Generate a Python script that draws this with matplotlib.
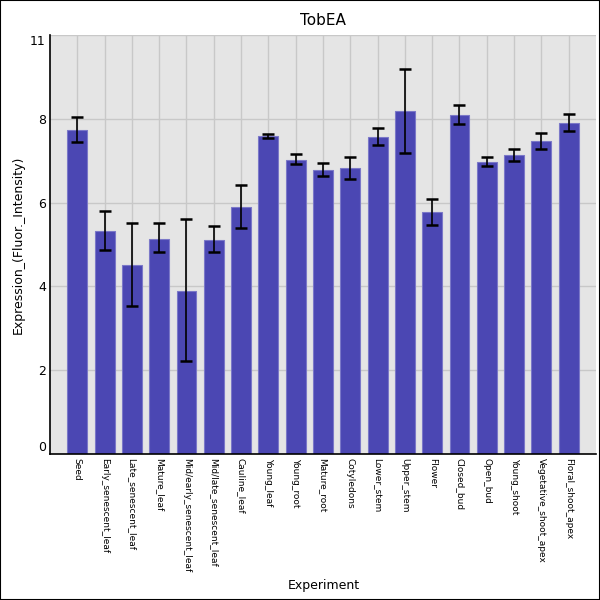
import matplotlib
matplotlib.use('Agg')
import matplotlib.pyplot as plt
import numpy as np

experiments = ['Seed', 'Early_senescent_leaf', 'Late_senescent_leaf', 'Mature_leaf',
               'Mid/early_senescent_leaf', 'Mid/late_senescent_leaf', 'Cauline_leaf',
               'Young_leaf', 'Young_root', 'Mature_root', 'Cotyledons', 'Lower_stem',
               'Upper_stem', 'Flower', 'Closed_bud', 'Open_bud', 'Young_shoot',
               'Vegetative_shoot_apex', 'Floral_shoot_apex']
expression = [7.73, 5.33, 4.52, 5.14, 3.90, 5.10, 5.89, 7.58, 7.01, 6.77, 6.82,
              7.56, 8.18, 5.77, 8.09, 6.96, 7.13, 7.46, 7.89]
err_high = [8.05, 5.81, 5.52, 5.51, 5.61, 5.43, 6.43, 7.64, 7.15, 6.95, 7.10,
            7.78, 9.20, 6.09, 8.32, 7.09, 7.28, 7.66, 8.12]
err_low = [7.45, 4.88, 3.54, 4.82, 2.23, 4.82, 5.39, 7.54, 6.92, 6.64, 6.56,
           7.38, 7.18, 5.46, 7.87, 6.87, 7.00, 7.29, 7.72]
y_ticks = [0, 2, 4, 6, 8, 10]
y_tick_labels = ['0', '2', '4', '6', '8', '11']

x = np.arange(len(experiments))
vals = np.array(expression)
yerr = [vals - np.array(err_low), np.array(err_high) - vals]

fig = plt.figure(figsize=(6, 6), dpi=100)
ax = fig.add_axes([0.0833, 0.2433, 0.91, 0.6984])
ax.set_facecolor('#e5e5e5')
ax.set_axisbelow(True)
ax.grid(True, color='#c8c8c8', linewidth=1)

ax.bar(x, vals, width=0.73, color='#4b47b3', edgecolor='#7b78c8', linewidth=0.8)
ax.errorbar(x, vals, yerr=yerr, fmt='none', ecolor='black', elinewidth=1.2,
            capsize=4, capthick=1.8)

ax.set_xlim(-1, len(experiments))
ax.set_ylim(0, 10)
ax.set_yticks(y_ticks)
ax.set_yticklabels(y_tick_labels, fontsize=9)
labels = ax.get_yticklabels()
labels[0].set_va('bottom')
labels[-1].set_va('top')
ax.set_xticks(x)
ax.set_xticklabels(experiments, rotation=270, fontsize=6.5, va='top', ha='center')
ax.tick_params(length=0, pad=3)

for side in ['top', 'right']:
    ax.spines[side].set_visible(False)
for side in ['left', 'bottom']:
    ax.spines[side].set_color('black')
    ax.spines[side].set_linewidth(1.2)

ax.set_title('TobEA', fontsize=11, pad=7)
ax.set_ylabel('Expression_(Fluor._Intensity)', fontsize=9)
fig.text(0.54, 0.025, 'Experiment', ha='center', va='center', fontsize=9)

fig.patches.append(plt.Rectangle((0, 0), 1, 1, transform=fig.transFigure,
                                 fill=False, edgecolor='black', linewidth=1.5))
fig.savefig('out.png', dpi=100)
